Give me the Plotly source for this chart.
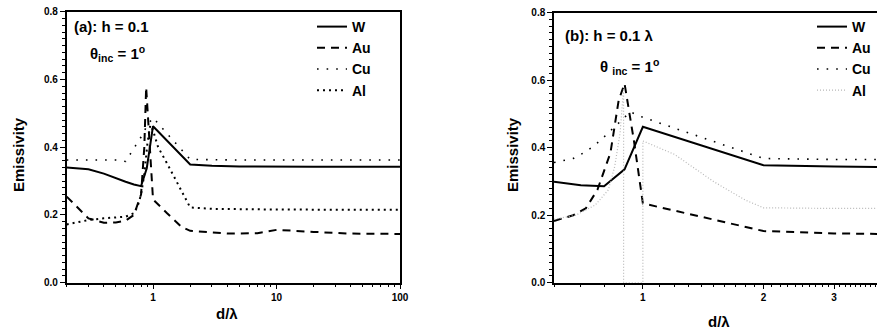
import numpy as np
import plotly.graph_objects as go

# ---------------- data: panel (a) ----------------
W_a_x = [0.2, 0.3, 0.4, 0.5, 0.6, 0.7, 0.8, 0.89, 1.0, 2, 3, 5, 10, 20, 50, 100]
W_a_y = [0.340, 0.335, 0.322, 0.308, 0.298, 0.290, 0.285, 0.338, 0.462, 0.349, 0.345, 0.343, 0.342, 0.342, 0.342, 0.342]

Au_a_x = [0.2, 0.3, 0.4, 0.5, 0.6, 0.7, 0.8, 0.85, 0.88, 0.92, 0.96, 1.0, 1.3, 1.7, 2, 4, 7, 10, 20, 40, 100]
Au_a_y = [0.254, 0.190, 0.177, 0.178, 0.183, 0.200, 0.260, 0.400, 0.577, 0.450, 0.330, 0.246, 0.205, 0.165, 0.153, 0.145, 0.146, 0.156, 0.150, 0.145, 0.144]

Cu_a_x = [0.2, 0.3, 0.5, 0.6, 0.7, 0.8, 0.9, 1.0, 1.3, 2, 5, 10, 100]
Cu_a_y = [0.362, 0.362, 0.362, 0.358, 0.395, 0.430, 0.465, 0.487, 0.440, 0.364, 0.362, 0.362, 0.362]

Al_a_x = [0.2, 0.3, 0.4, 0.5, 0.6, 0.7, 0.75, 0.8, 0.85, 0.9, 0.95, 1.0, 1.1, 1.3, 1.6, 2, 3, 10, 100]
Al_a_y = [0.172, 0.185, 0.190, 0.192, 0.195, 0.205, 0.225, 0.260, 0.320, 0.410, 0.465, 0.450, 0.400, 0.352, 0.290, 0.222, 0.218, 0.216, 0.215]

# ---------------- data: panel (b) ----------------
W_b_x = [0.6, 0.7, 0.8, 0.9, 1.0, 2.0, 3.0, 5.0]
W_b_y = [0.299, 0.289, 0.286, 0.336, 0.462, 0.348, 0.344, 0.342]

Au_b_x = [0.6, 0.67, 0.72, 0.77, 0.83, 0.87, 0.9, 0.95, 1.0, 2.0, 3.0, 5.0]
Au_b_y = [0.183, 0.200, 0.220, 0.275, 0.385, 0.540, 0.590, 0.420, 0.235, 0.153, 0.146, 0.143]

Cu_b_x = [0.6, 0.67, 0.72, 0.76, 0.8, 0.85, 0.93, 1.0, 2.0, 3.0, 5.0]
Cu_b_y = [0.356, 0.368, 0.388, 0.408, 0.432, 0.462, 0.506, 0.490, 0.368, 0.365, 0.365]

Al_b_x = [0.6, 0.68, 0.76, 0.82, 0.85, 0.877, 0.895, 0.895, 1.0, 1.0, 1.2, 1.5, 1.8, 2.0, 3.0, 5.0]
Al_b_y = [0.188, 0.200, 0.230, 0.275, 0.343, 0.442, 0.575, 0.0, 0.0, 0.420, 0.380, 0.300, 0.245, 0.222, 0.220, 0.220]

series_names = ["W", "Au", "Cu", "Al"]
y_ticks = [0.0, 0.2, 0.4, 0.6, 0.8]
xa_major = [1, 10, 100]
xb_major = [1, 2, 3]

FONT = "Liberation Sans, Arial, sans-serif"

styles_a = {
    "W": dict(color="black", width=2, dash="solid"),
    "Au": dict(color="black", width=2, dash="8px,6px"),
    "Cu": dict(color="black", width=1.6, dash="1.6px,8px"),
    "Al": dict(color="black", width=2, dash="2px,4px"),
}
styles_b = {
    "W": dict(color="black", width=2, dash="solid"),
    "Au": dict(color="black", width=2, dash="8px,6px"),
    "Cu": dict(color="black", width=1.6, dash="1.6px,8px"),
    "Al": dict(color="#b8b8b8", width=1.2, dash="1px,2px"),
}

fig = go.Figure()
data_a = {"W": (W_a_x, W_a_y), "Au": (Au_a_x, Au_a_y), "Cu": (Cu_a_x, Cu_a_y), "Al": (Al_a_x, Al_a_y)}
data_b = {"W": (W_b_x, W_b_y), "Au": (Au_b_x, Au_b_y), "Cu": (Cu_b_x, Cu_b_y), "Al": (Al_b_x, Al_b_y)}

for n in series_names:
    x, y = data_a[n]
    fig.add_trace(go.Scatter(x=x, y=y, mode="lines", name=n, line=styles_a[n],
                             xaxis="x", yaxis="y", legend="legend"))
for n in series_names:
    x, y = data_b[n]
    fig.add_trace(go.Scatter(x=x, y=y, mode="lines", name=n, line=styles_b[n],
                             xaxis="x2", yaxis="y2", legend="legend2"))

W, H = 877, 331
def px_x(p): return p / W
def px_y(p): return 1 - p / H

tickfont = dict(family=FONT, size=10, color="black", weight="bold")

minor_a = [round(v * 10 ** e, 3) for e in (-1, 0, 1) for v in range(2, 10) if 0.2 <= v * 10 ** e <= 100]
minor_b = [round(0.6 + 0.1 * i, 2) for i in range(0, 4)] + [round(1 + 0.1 * i, 2) for i in range(1, 10)] + \
          [round(2 + 0.1 * i, 2) for i in range(1, 10)] + [round(3 + 0.1 * i, 2) for i in range(1, 10)]
minor_y = [round(0.02 * i, 2) for i in range(0, 41)]

common_x = dict(type="log", showgrid=False, zeroline=False, showline=True, linecolor="black", linewidth=1.5,
                ticks="outside", ticklen=5, tickwidth=1.2, tickcolor="black", tickfont=tickfont, automargin=False)
common_y = dict(showgrid=False, zeroline=False, showline=True, linecolor="black", linewidth=1.5,
                ticks="outside", ticklen=5, tickwidth=1.2, tickcolor="black", tickfont=tickfont, automargin=False,
                tickmode="array", tickvals=y_ticks, ticktext=[f"{v:.1f}" for v in y_ticks], range=[0, 0.8],
                minor=dict(tickmode="array", tickvals=minor_y, ticklen=3, tickwidth=1, tickcolor="black", ticks="outside"))

legfont = dict(family=FONT, size=14, color="black", weight="bold")
fig.update_layout(
    width=W, height=H, margin=dict(l=0, r=0, t=0, b=0, autoexpand=False),
    paper_bgcolor="white", plot_bgcolor="white",
    xaxis=dict(common_x, domain=[px_x(66.7), px_x(400)], range=[np.log10(0.2), 2], anchor="y", mirror=True,
               tickmode="array", tickvals=xa_major, ticktext=[str(v) for v in xa_major],
               minor=dict(tickmode="array", tickvals=minor_a, ticklen=3, tickwidth=1, tickcolor="black", ticks="outside")),
    yaxis=dict(common_y, domain=[px_y(282.7), px_y(11.7)], anchor="x", mirror=True),
    xaxis2=dict(common_x, domain=[px_x(554), 1.0], range=[np.log10(0.6), np.log10(3.84)], anchor="y2", mirror=True,
                tickmode="array", tickvals=xb_major, ticktext=[str(v) for v in xb_major],
                minor=dict(tickmode="array", tickvals=minor_b, ticklen=3, tickwidth=1, tickcolor="black", ticks="outside")),
    yaxis2=dict(common_y, domain=[px_y(282.7), px_y(12.7)], anchor="x2", mirror=False),
    legend=dict(x=px_x(312), y=px_y(11), xanchor="left", yanchor="top", bgcolor="rgba(0,0,0,0)",
                font=legfont, itemwidth=30, tracegroupgap=0),
    legend2=dict(x=px_x(812), y=px_y(11), xanchor="left", yanchor="top", bgcolor="rgba(0,0,0,0)",
                 font=legfont, itemwidth=30, tracegroupgap=0),
    showlegend=True,
)

afont = dict(family=FONT, size=15, color="black", weight="bold")
tfont = dict(family=FONT, size=15, color="black", weight="bold")
ann = [
    dict(text="(a): h = 0.1", x=px_x(72), y=px_y(27), xanchor="left", yanchor="middle", font=afont),
    dict(text="θ<sub>inc</sub> = 1<sup>o</sup>", x=px_x(88), y=px_y(54), xanchor="left", yanchor="middle", font=afont),
    dict(text="(b): h = 0.1 λ", x=px_x(563), y=px_y(35), xanchor="left", yanchor="middle", font=afont),
    dict(text="θ <sub>inc</sub> = 1<sup>o</sup>", x=px_x(598), y=px_y(66), xanchor="left", yanchor="middle", font=afont),
    dict(text="Emissivity", x=px_x(18), y=px_y(155), xanchor="center", yanchor="middle", textangle=-90, font=tfont),
    dict(text="d/λ", x=px_x(227), y=px_y(313), xanchor="center", yanchor="middle", font=tfont),
    dict(text="Emissivity", x=px_x(512), y=px_y(155), xanchor="center", yanchor="middle", textangle=-90, font=tfont),
    dict(text="d/λ", x=px_x(719), y=px_y(321), xanchor="center", yanchor="middle", font=tfont),
]
for a in ann:
    a.update(xref="paper", yref="paper", showarrow=False)
fig.update_layout(annotations=ann)

fig.write_html("out.html", config={"displayModeBar": False},
               post_script="document.body.style.margin='0';document.body.style.overflow='hidden';")
